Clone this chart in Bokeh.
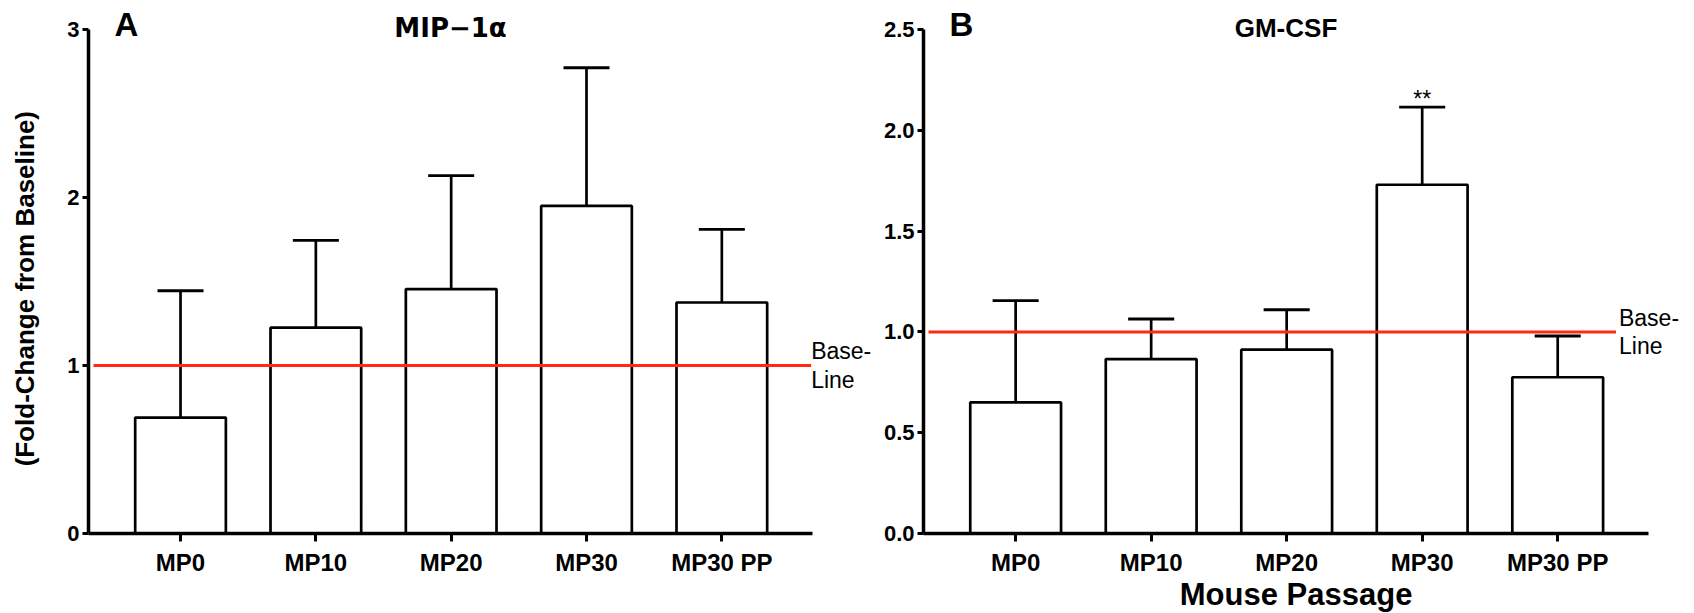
from bokeh.plotting import figure
from bokeh.layouts import row
from bokeh.models import FixedTicker, Label, Range1d, ColumnDataSource
from bokeh.core.properties import value
from bokeh.embed import file_html
from bokeh.resources import INLINE

# ---------------- data ----------------
categories = ["MP0", "MP10", "MP20", "MP30", "MP30 PP"]
mip_mean = [0.69, 1.225, 1.455, 1.95, 1.375]
mip_upper = [1.445, 1.745, 2.13, 2.772, 1.81]
gm_mean = [0.65, 0.865, 0.912, 1.73, 0.775]
gm_upper = [1.155, 1.064, 1.11, 2.115, 0.98]
baseline = 1.0
mip_yticks = [0, 1, 2, 3]
mip_ylabels = ["0", "1", "2", "3"]
gm_yticks = [0, 0.5, 1.0, 1.5, 2.0, 2.5]
gm_ylabels = ["0.0", "0.5", "1.0", "1.5", "2.0", "2.5"]
signif = ["", "", "", "**", ""]

FONT = "Liberation Sans"
RED = "#FF2A10"
NB = "\u00a0"
XMIN, XMAX = -0.68, 4.67          # extent of the drawn x axis
PLOT_H = 504                      # pixel height of the drawn y axis
TOP_PAD = 29                      # pixels above the y axis top


def make_panel(mean, upper, ymax, yticks, ylabels, axis_w, bl, extra_r, title,
               title_font, letter, base_end, base_off, ylab=None, xlab=None,
               sig=False):
    xs = list(range(len(categories)))
    xpx = axis_w / (XMAX - XMIN)
    ypx = PLOT_H / ymax
    p = figure(frame_width=axis_w + extra_r, frame_height=PLOT_H + TOP_PAD,
               x_range=Range1d(XMIN, XMAX + extra_r / xpx),
               y_range=Range1d(0, ymax + TOP_PAD / ypx),
               output_backend="svg", toolbar_location=None,
               min_border_left=bl, min_border_right=0,
               min_border_top=0, min_border_bottom=80)
    p.xgrid.visible = False
    p.ygrid.visible = False
    p.outline_line_color = None
    p.background_fill_color = "white"
    p.border_fill_color = "white"

    src = ColumnDataSource(dict(x=xs, top=mean, up=upper,
                                lo=[x - 0.17 for x in xs], hi=[x + 0.17 for x in xs],
                                sig=signif))
    p.vbar(x="x", top="top", width=0.67, source=src, fill_color="white",
           line_color="black", line_width=2.7)
    p.segment(x0="x", y0="top", x1="x", y1="up", source=src, line_color="black",
              line_width=2.7)
    p.segment(x0="lo", y0="up", x1="hi", y1="up", source=src, line_color="black",
              line_width=2.9)
    if sig:
        p.text(x="x", y="up", text="sig", source=src, text_align="center",
               text_baseline="bottom", y_offset=5, text_font=value(FONT),
               text_font_size="23px", text_color="black")

    p.segment(x0=[XMIN + 5 / xpx], y0=[baseline], x1=[base_end], y1=[baseline],
              line_color=RED, line_width=3)

    # axes
    p.xaxis.ticker = FixedTicker(ticks=xs)
    p.xaxis.major_label_overrides = {i: c for i, c in enumerate(categories)}
    p.xaxis.bounds = (XMIN, XMAX)
    p.yaxis.ticker = FixedTicker(ticks=yticks)
    p.yaxis.major_label_overrides = {t: l for t, l in zip(yticks, ylabels)}
    p.yaxis.bounds = (0, ymax)
    for ax in (p.xaxis, p.yaxis):
        ax.axis_line_width = 3.5
        ax.axis_line_color = "black"
        ax.major_tick_line_width = 3
        ax.major_tick_line_color = "black"
        ax.major_tick_in = 0
        ax.minor_tick_in = 0
        ax.minor_tick_out = 0
        ax.major_label_text_font = FONT
        ax.major_label_text_font_style = "bold"
        ax.major_label_text_color = "black"
    p.xaxis.major_tick_out = 8
    p.yaxis.major_tick_out = 6
    p.xaxis.major_label_text_font_size = "24px"
    p.yaxis.major_label_text_font_size = "22px"
    p.xaxis.major_label_standoff = 7
    p.yaxis.major_label_standoff = 3

    if ylab:
        p.yaxis.axis_label = ylab + NB * 6
        p.yaxis.axis_label_text_font = FONT
        p.yaxis.axis_label_text_font_style = "bold"
        p.yaxis.axis_label_text_font_size = "26px"
        p.yaxis.axis_label_text_color = "black"
        p.yaxis.axis_label_standoff = 24
    if xlab:
        p.xaxis.axis_label = xlab + NB * 3
        p.xaxis.axis_label_text_font = FONT
        p.xaxis.axis_label_text_font_style = "bold"
        p.xaxis.axis_label_text_font_size = "31px"
        p.xaxis.axis_label_text_color = "black"
        p.xaxis.axis_label_standoff = -2

    p.add_layout(Label(x=base_end, y=baseline, x_offset=base_off, text="Base-\nLine",
                       text_font=FONT, text_font_size="23px", text_color="black",
                       text_baseline="middle", text_align="left",
                       text_line_height=1.1))
    p.add_layout(Label(x=(XMIN + XMAX) / 2, y=ymax + 2 / ypx, text=title,
                       text_font=title_font, text_font_style="bold",
                       text_font_size="26px", text_color="black",
                       text_align="center", text_baseline="middle"))
    p.add_layout(Label(x=XMIN + 26 / xpx, y=ymax + 5 / ypx, text=letter,
                       text_font=FONT, text_font_style="bold",
                       text_font_size="33px", text_color="black",
                       text_align="left", text_baseline="middle"))
    return p


pA = make_panel(mip_mean, mip_upper, 3, mip_yticks, mip_ylabels, 724, 88, 66,
                "MIP\u22121\u03b1", "DejaVu Sans", "A", 4.66, 0,
                ylab="(Fold-Change from Baseline)")
pB = make_panel(gm_mean, gm_upper, 2.5, gm_yticks, gm_ylabels, 725, 45, 46,
                "GM-CSF", FONT, "B", 4.43, 3, xlab="Mouse Passage", sig=True)

layout = row(pA, pB)
open("out.html", "w").write(file_html(layout, INLINE))
